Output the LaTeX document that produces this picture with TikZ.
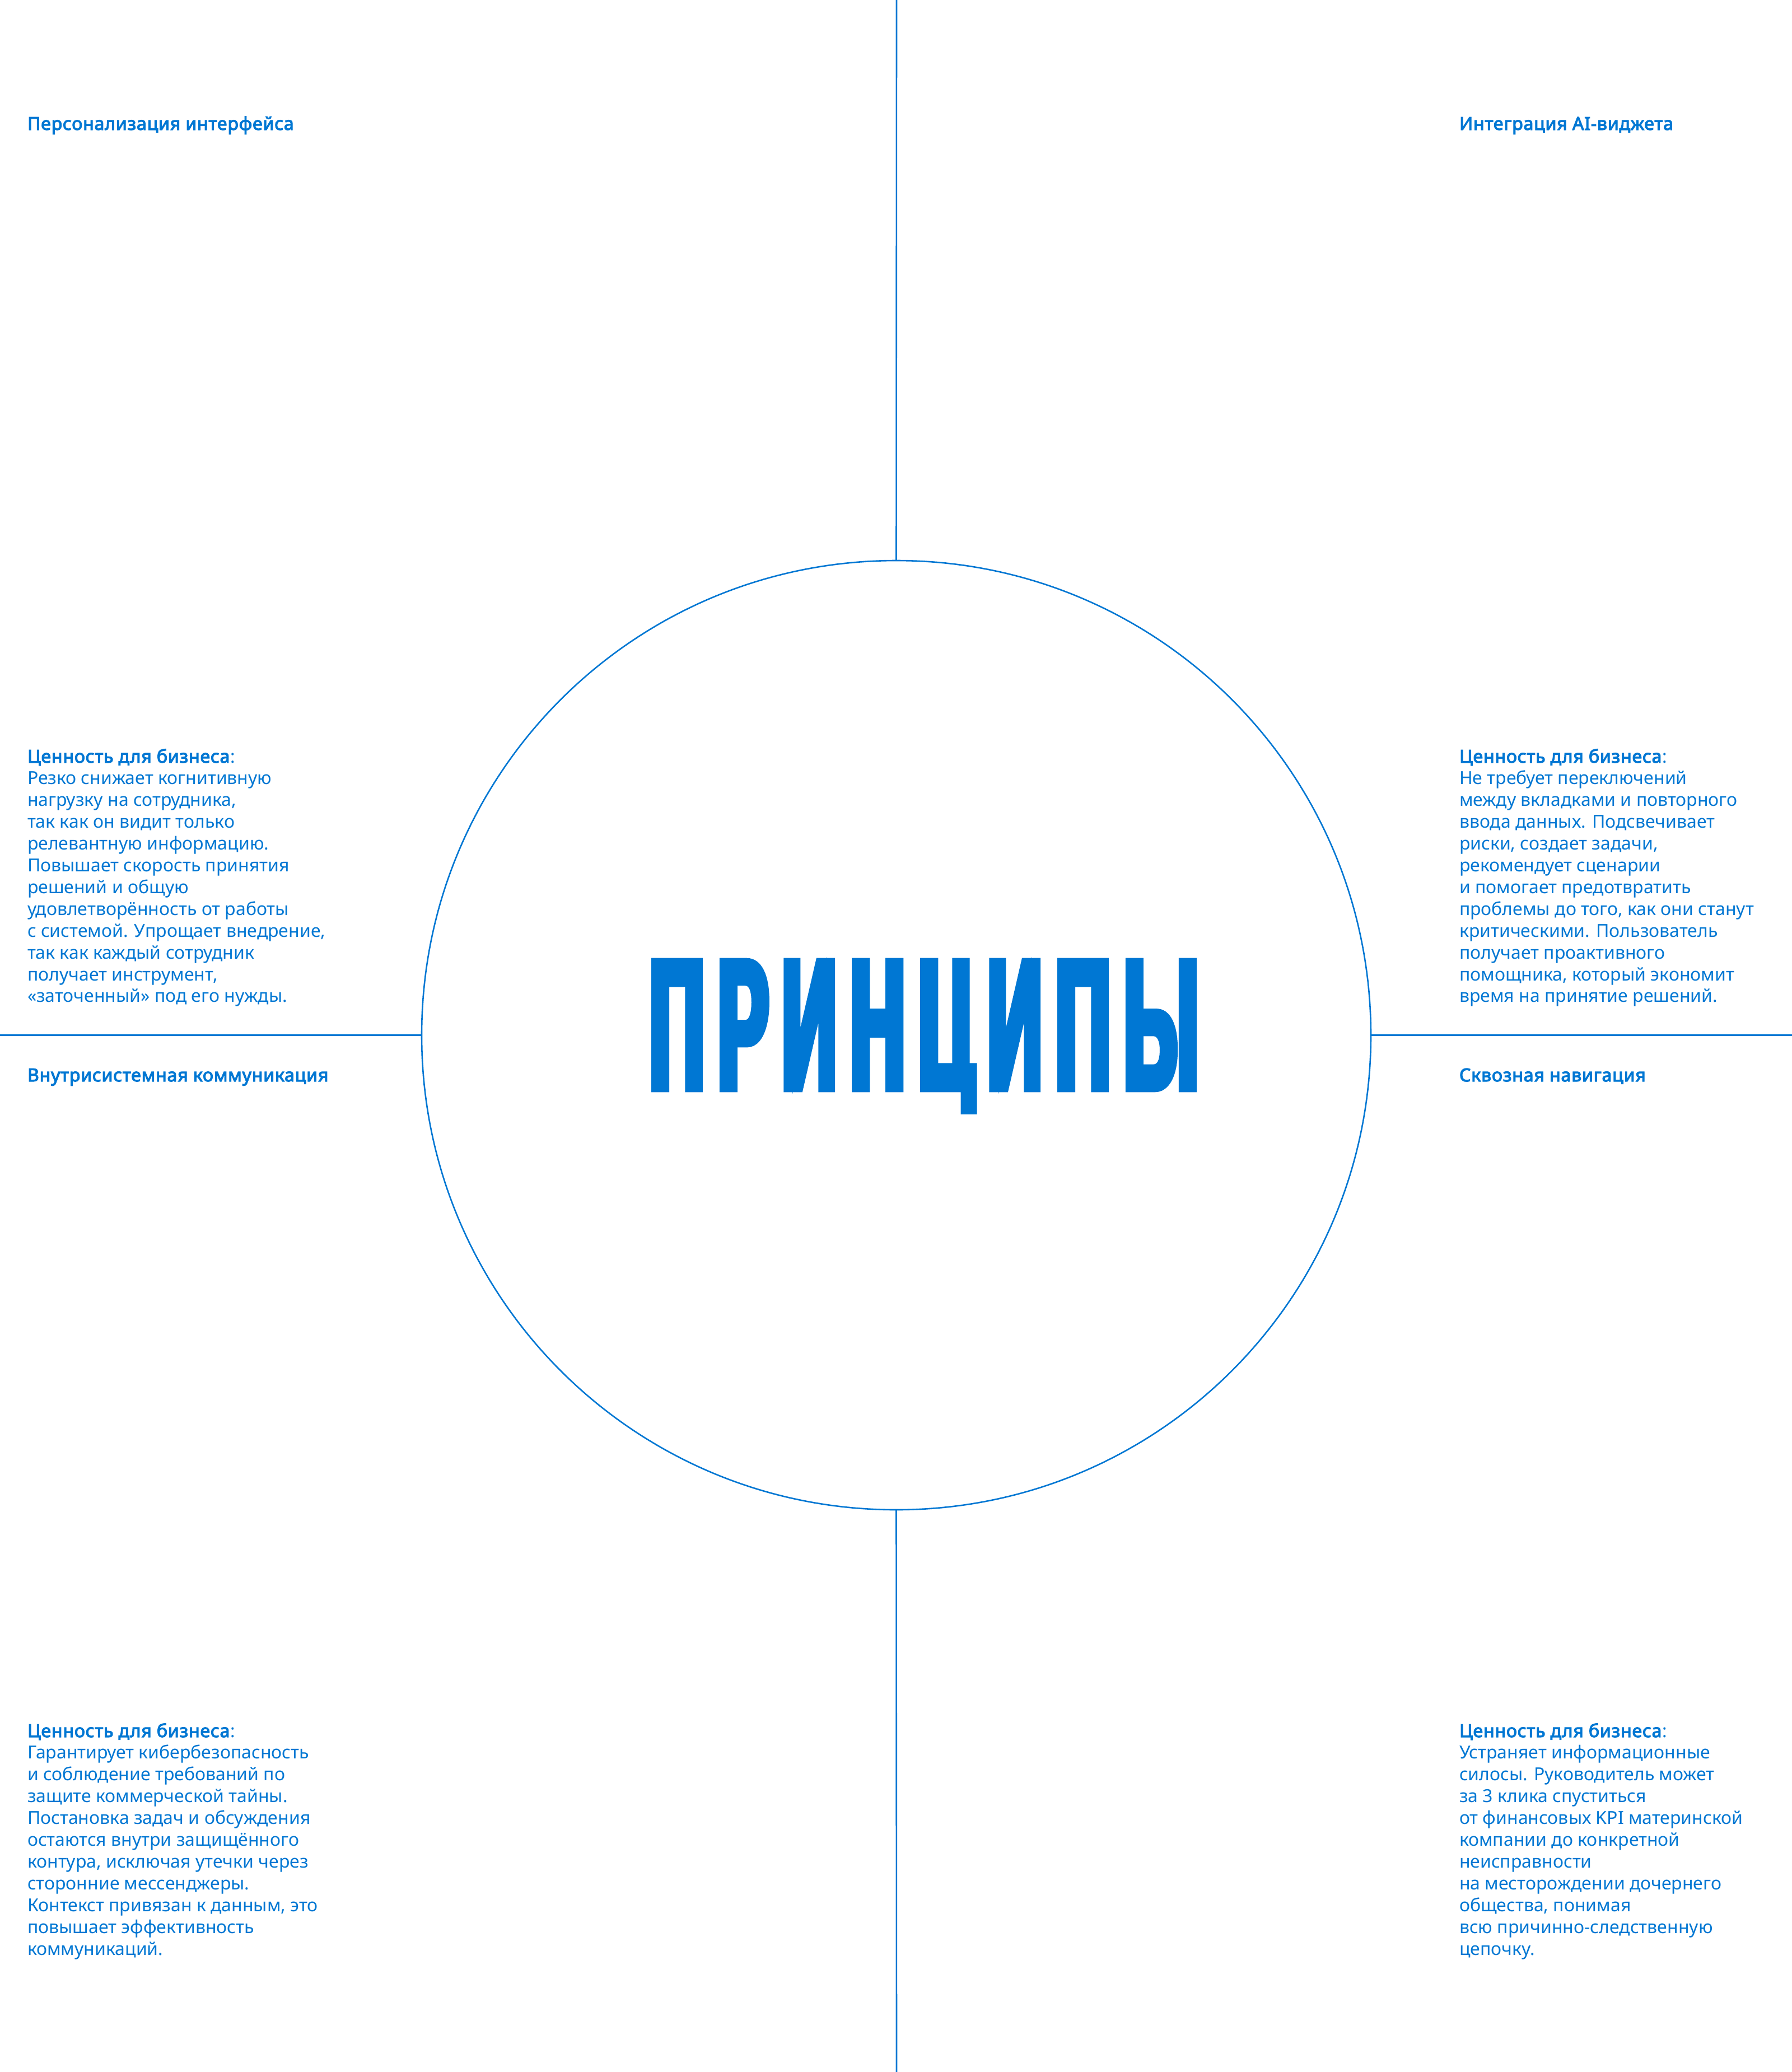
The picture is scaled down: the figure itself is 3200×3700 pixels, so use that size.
\documentclass[tikz,border=0pt]{standalone}
\usepackage{fontspec}
\setmainfont{Noto Sans}[BoldFont={Noto Sans}, BoldFeatures={FakeBold=3.6, LetterSpace=2.6}]
\newfontfamily\titlefont{Liberation Sans Bold}[FakeBold=3.8,FakeStretch=0.41,LetterSpace=7.4]
\definecolor{blu}{HTML}{0077D3}
\newcommand\bodyfont{\fontsize{32}{38.9}\selectfont}
\newcommand\blockbox[1]{\parbox[t]{700pt}{\bodyfont\raggedright #1}}
\newcommand\valhead{\textbf{Ценность для бизнеса}:}
\tikzset{
  txt/.style={anchor=base west, inner sep=0pt, outer sep=0pt, text=blu, font=\bodyfont},
  hdr/.style={txt, font=\bodyfont\bfseries},
  axis/.style={draw=blu, line width=2.6pt},
  ring/.style={circle, draw=blu, line width=2.6pt, minimum size=1695pt, inner sep=0pt, outer sep=0pt},
}
\begin{document}
\begin{tikzpicture}[x=1pt,y=-1pt]
\useasboundingbox[fill=white] (0,0) rectangle (3200,3700);

% frame coordinates
\coordinate (topend) at (1601,0);
\coordinate (botend) at (1601,3700);
\coordinate (leftend) at (0,1848.5);
\coordinate (rightend) at (3200,1848.5);

\node[ring] (c) at (1600.5,1848.5) {};

\draw[axis] (topend) -- (c.north);
\draw[axis] (c.south) -- (botend);
\draw[axis] (leftend) -- (c.west);
\draw[axis] (c.east) -- (rightend);

% title (descender of the Ц trimmed to the reference depth)
\begin{scope}
\clip (1000,1600) rectangle (2300,1989);
\node[anchor=base, inner sep=0pt, text=blu, font=\titlefont\fontsize{330}{330}\selectfont] (title) at (1650,1944) {ПРИНЦИПЫ};
\end{scope}

% headers
\node[hdr] (h1) at (49,232) {Персонализация интерфейса};
\node[hdr] (h2) at (2606,232) {Интеграция AI-виджета};
\node[hdr] (h3) at (49,1931) {Внутрисистемная коммуникация};
\node[hdr] (h4) at (2606,1931) {Сквозная навигация};

% value blocks
\node[txt] (b1) at (49,1362) {\blockbox{\valhead\\
Резко снижает когнитивную\\
нагрузку на сотрудника,\\
так как он видит только\\
релевантную информацию.\\
Повышает скорость принятия\\
решений и общую\\
удовлетворённость от работы\\
с системой. Упрощает внедрение,\\
так как каждый сотрудник\\
получает инструмент,\\
«заточенный» под его нужды.}};

\node[txt] (b2) at (2606,1362) {\blockbox{\valhead\\
Не требует переключений\\
между вкладками и повторного\\
ввода данных. Подсвечивает\\
риски, создает задачи,\\
рекомендует сценарии\\
и помогает предотвратить\\
проблемы до того, как они станут\\
критическими. Пользователь\\
получает проактивного\\
помощника, который экономит\\
время на принятие решений.}};

\node[txt] (b3) at (49,3102) {\blockbox{\valhead\\
Гарантирует кибербезопасность\\
и соблюдение требований по\\
защите коммерческой тайны.\\
Постановка задач и обсуждения\\
остаются внутри защищённого\\
контура, исключая утечки через\\
сторонние мессенджеры.\\
Контекст привязан к данным, это\\
повышает эффективность\\
коммуникаций.}};

\node[txt] (b4) at (2606,3102) {\blockbox{\valhead\\
Устраняет информационные\\
силосы. Руководитель может\\
за 3 клика спуститься\\
от финансовых KPI материнской\\
компании до конкретной\\
неисправности\\
на месторождении дочернего\\
общества, понимая\\
всю причинно-следственную\\
цепочку.}};
\end{tikzpicture}
\end{document}
